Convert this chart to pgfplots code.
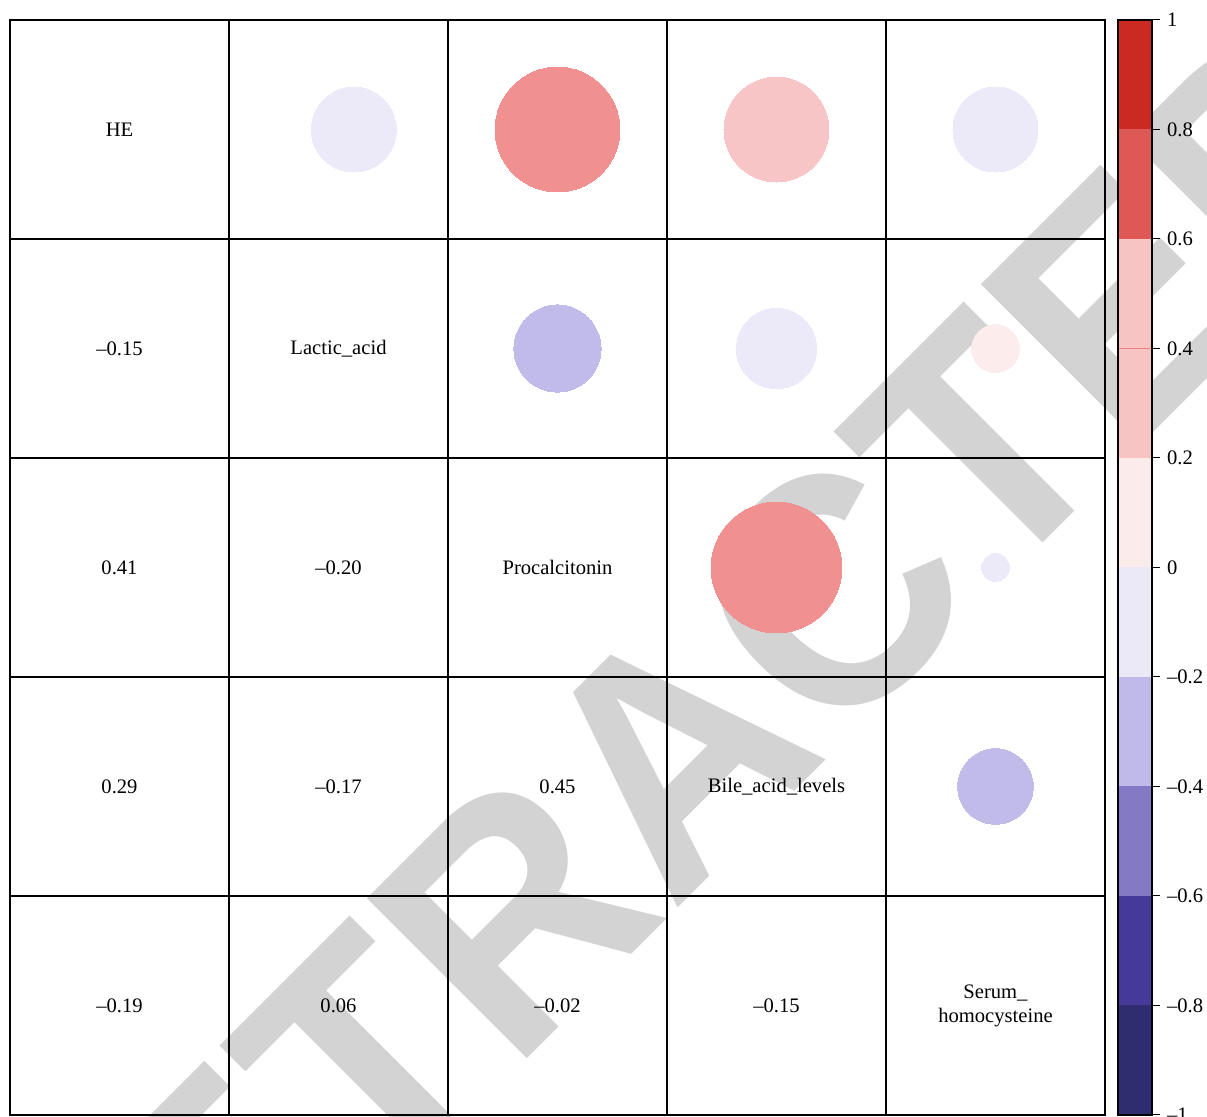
\documentclass[border=0pt]{standalone}
\usepackage{pgfplots}
\pgfplotsset{compat=1.18}
\usepackage{fontspec}
\setmainfont{Liberation Serif}
\newfontfamily\wmfont{Liberation Sans}

% circle colours
\definecolor{dotA}{RGB}{240,144,144}
\definecolor{dotB}{RGB}{247,197,197}
\definecolor{dotC}{RGB}{252,236,236}
\definecolor{dotD}{RGB}{236,234,248}
\definecolor{dotE}{RGB}{193,187,233}
% colour bar bins, from -1 upwards
\definecolor{cb1}{RGB}{48,44,112}
\definecolor{cb2}{RGB}{69,57,154}
\definecolor{cb3}{RGB}{131,121,196}
\definecolor{cb4}{RGB}{192,186,232}
\definecolor{cb5}{RGB}{235,233,247}
\definecolor{cb6}{RGB}{252,235,235}
\definecolor{cb7}{RGB}{247,196,196}
\definecolor{cb8}{RGB}{247,196,196}
\definecolor{cb9}{RGB}{222,89,85}
\definecolor{cb10}{RGB}{203,42,32}
\definecolor{binline}{RGB}{240,128,128}
\definecolor{wm}{RGB}{211,211,211}

% upper triangle coefficients, grouped by fill colour
\pgfplotstableread{
col  row r
3    1    0.41
4    3    0.45
}\tabA
\pgfplotstableread{
col  row r
4    1    0.29
}\tabB
\pgfplotstableread{
col  row r
5    2    0.06
}\tabC
\pgfplotstableread{
col  row r
2.07 1   -0.19
5    1   -0.19
4    2   -0.17
5    3   -0.02
}\tabD
\pgfplotstableread{
col  row r
3    2   -0.20
5    4   -0.15
}\tabE

% circle area proportional to |r|
\pgfplotsset{corrdot/.style={scatter, only marks, mark=*, color=#1,
  point meta=\thisrow{r},
  scatter/use mapped color={draw=#1, fill=#1},
  mark options={draw=#1, fill=#1, line width=0pt},
  visualization depends on={48.75*sqrt(abs(\thisrow{r})) \as \rad},
  scatter/@pre marker code/.append style={/tikz/mark size=\rad}}}

\begin{document}
\begin{tikzpicture}[font=\fontsize{10.3pt}{12pt}\selectfont]
% watermark behind the chart
\begin{scope}
\clip (0,0) rectangle (603.5pt,-558.5pt);
\node[anchor=base, rotate=45, inner sep=0pt, text=wm,
      font=\wmfont\bfseries\fontsize{149.5pt}{150pt}\selectfont]
  at (376pt,-417pt) {\scalebox{1.045}[1.1]{RETRACTED}};
\end{scope}

% correlation matrix
\begin{axis}[
  at={(5pt,-10pt)}, anchor=north west,
  scale only axis, width=547.5pt, height=547.5pt,
  xmin=0.5, xmax=5.5, ymin=0.5, ymax=5.5, y dir=reverse,
  xtick={1.5,2.5,3.5,4.5}, ytick={1.5,2.5,3.5,4.5},
  xticklabels={}, yticklabels={}, major tick length=0pt,
  grid=major, major grid style={black, line width=0.65pt},
  axis line style={black, line width=0.65pt},
  clip=false,
]
\addplot[corrdot=dotA] table[x=col, y=row] {\tabA};
\addplot[corrdot=dotB] table[x=col, y=row] {\tabB};
\addplot[corrdot=dotC] table[x=col, y=row] {\tabC};
\addplot[corrdot=dotD] table[x=col, y=row] {\tabD};
\addplot[corrdot=dotE] table[x=col, y=row] {\tabE};

% diagonal: variable names
\node at (axis cs:1,1) {HE};
\node at (axis cs:2,2) {Lactic\_acid};
\node at (axis cs:3,3) {Procalcitonin};
\node at (axis cs:4,4) {Bile\_acid\_levels};
\node[align=center] at (axis cs:5,5) {Serum\_\\homocysteine};
% lower triangle: coefficients
\node at (axis cs:1,2) {–0.15};
\node at (axis cs:1,3) {0.41};
\node at (axis cs:2,3) {–0.20};
\node at (axis cs:1,4) {0.29};
\node at (axis cs:2,4) {–0.17};
\node at (axis cs:3,4) {0.45};
\node at (axis cs:1,5) {–0.19};
\node at (axis cs:2,5) {0.06};
\node at (axis cs:3,5) {–0.02};
\node at (axis cs:4,5) {–0.15};
\end{axis}

% colour bar
\begin{axis}[
  at={(559pt,-10pt)}, anchor=north west,
  scale only axis, width=17pt, height=547.5pt,
  xmin=0, xmax=1, ymin=-1, ymax=1,
  xtick=\empty,
  ytick={-1,-0.8,-0.6,-0.4,-0.2,0,0.2,0.4,0.6,0.8,1},
  yticklabels={–1,–0.8,–0.6,–0.4,–0.2,0,0.2,0.4,0.6,0.8,1},
  ytick pos=right, yticklabel pos=right, tick align=outside,
  major tick length=4pt, tick style={black, line width=0.5pt},
  axis line style={black, line width=0.6pt},
  axis on top,
]
\addplot[fill=cb1, draw=none] coordinates {(0,-1) (1,-1) (1,-0.8) (0,-0.8)} -- cycle;
\addplot[fill=cb2, draw=none] coordinates {(0,-0.8) (1,-0.8) (1,-0.6) (0,-0.6)} -- cycle;
\addplot[fill=cb3, draw=none] coordinates {(0,-0.6) (1,-0.6) (1,-0.4) (0,-0.4)} -- cycle;
\addplot[fill=cb4, draw=none] coordinates {(0,-0.4) (1,-0.4) (1,-0.2) (0,-0.2)} -- cycle;
\addplot[fill=cb5, draw=none] coordinates {(0,-0.2) (1,-0.2) (1,0) (0,0)} -- cycle;
\addplot[fill=cb6, draw=none] coordinates {(0,0) (1,0) (1,0.2) (0,0.2)} -- cycle;
\addplot[fill=cb7, draw=none] coordinates {(0,0.2) (1,0.2) (1,0.4) (0,0.4)} -- cycle;
\addplot[fill=cb8, draw=none] coordinates {(0,0.4) (1,0.4) (1,0.6) (0,0.6)} -- cycle;
\addplot[fill=cb9, draw=none] coordinates {(0,0.6) (1,0.6) (1,0.8) (0,0.8)} -- cycle;
\addplot[fill=cb10, draw=none] coordinates {(0,0.8) (1,0.8) (1,1) (0,1)} -- cycle;
\addplot[color=binline, line width=0.4pt] coordinates {(0,0.4) (1,0.4)};
\end{axis}

\pgfresetboundingbox
\path[use as bounding box] (0,0) rectangle (603.5pt,-558.5pt);
\end{tikzpicture}
\end{document}
